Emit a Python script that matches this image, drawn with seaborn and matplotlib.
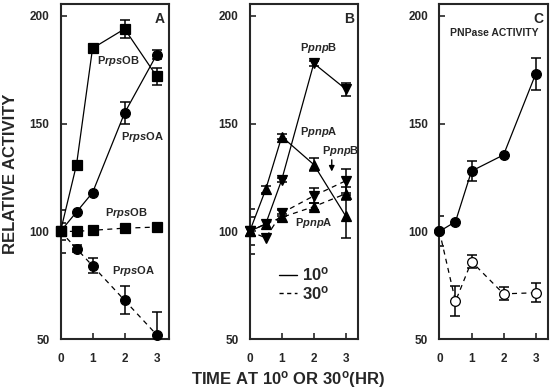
import numpy as np
import matplotlib
matplotlib.use("Agg")
import matplotlib.pyplot as plt
import seaborn as sns
from matplotlib.lines import Line2D

# sampling times (hr)
hours = [0, 0.5, 1, 2, 3]

# panel A: rpsO promoters
rpsOB_10 = [100, 131, 185, 194, 172]
rpsOB_10_err = [10, 0, 0, 4, 4]
rpsOA_10 = [100, 109, 118, 155, 182]
rpsOA_10_err = [4, 0, 0, 5, 2]
rpsOB_30 = [100, 100, 100.5, 101.5, 102]
rpsOB_30_err = [0, 0, 0, 0, 0]
rpsOA_30 = [100, 92, 84, 68, 52]
rpsOA_30_err = [0, 1.5, 3.5, 6.5, 10.5]

# panel B: pnp promoters
pnpA_10 = [100, 119.5, 144, 131, 107]
pnpA_10_err = [6.5, 1.5, 1, 3, 10]
pnpB_10 = [100, 103.5, 124, 178, 166]
pnpB_10_err = [10.5, 0, 1, 1, 3]
pnpA_30 = [100, 103.5, 106.5, 111.5, 117.5]
pnpA_30_err = [0, 0, 1.5, 1.5, 3]
pnpB_30 = [100, 97, 108.5, 116.5, 123.5]
pnpB_30_err = [0, 0, 1.5, 3.5, 5.5]

# panel C: PNPase activity
pnpase_10 = [100, 104.5, 128, 135.5, 173]
pnpase_10_err = [7, 0, 4.5, 0, 7.5]
pnpase_30 = [100, 67.5, 86, 71, 71.5]
pnpase_30_err = [0, 7, 3, 3, 4.5]

panel_letters = ["A", "B", "C"]
y_ticks = [50, 100, 150, 200]
x_ticks = [0, 1, 2, 3]

sns.set_style("ticks")
plt.rcParams["font.family"] = ["Liberation Sans", "DejaVu Sans"]
plt.rcParams["font.weight"] = "bold"
plt.rcParams["mathtext.fontset"] = "custom"
plt.rcParams["mathtext.rm"] = "Liberation Sans:bold"
plt.rcParams["mathtext.it"] = "Liberation Sans:italic:bold"
plt.rcParams["mathtext.bf"] = "Liberation Sans:bold"

SOLID = "-"
DASH = (0, (4, 3.5))


def draw(ax, y, err, marker, ls, ms=7, mfc="black", z=3):
    sns.lineplot(x=hours, y=y, ax=ax, color="black", linestyle=ls, lw=0.9,
                 marker=marker, markersize=ms, markerfacecolor=mfc,
                 markeredgecolor="black", markeredgewidth=0.9,
                 clip_on=False, zorder=z)
    xs = [h for h, e in zip(hours, err) if e > 0]
    ys = [v for v, e in zip(y, err) if e > 0]
    es = [e for e in err if e > 0]
    ax.errorbar(xs, ys, yerr=es, fmt="none", ecolor="black", elinewidth=1.1,
                capsize=3.5, capthick=1.1, zorder=2)


fig = plt.figure(figsize=(5.5, 3.92), dpi=100)
lefts = [0.110, 0.454, 0.799]
axes = [fig.add_axes([l, 0.135, 0.197, 0.855]) for l in lefts]

for ax, letter in zip(axes, panel_letters):
    ax.set_xlim(0, 3.38)
    ax.set_ylim(50, 205.6)
    ax.set_xticks(x_ticks)
    ax.set_yticks(y_ticks)
    ax.tick_params(direction="in", length=4, width=1.2, labelsize=8.5)
    ax.tick_params(axis="x", pad=10)
    ax.tick_params(axis="y", pad=8)
    for lab in ax.get_xticklabels() + ax.get_yticklabels():
        lab.set_fontweight("bold")
    for sp in ax.spines.values():
        sp.set_visible(True)
        sp.set_linewidth(1.5)
    ax.set_xlabel("")
    ax.set_ylabel("")
    ax.text(0.96, 0.975, letter, transform=ax.transAxes, ha="right", va="top",
            fontsize=10, fontweight="bold")

# panel A
ax = axes[0]
draw(ax, rpsOB_30, rpsOB_30_err, "s", DASH, ms=7.5)
draw(ax, rpsOA_30, rpsOA_30_err, "o", DASH)
draw(ax, rpsOB_10, rpsOB_10_err, "s", SOLID, ms=7.5, z=4)
draw(ax, rpsOA_10, rpsOA_10_err, "o", SOLID, z=4)
ax.text(1.14, 179, r"P$\mathit{rps}$OB", fontsize=8, va="center")
ax.text(1.9, 144, r"P$\mathit{rps}$OA", fontsize=8, va="center")
ax.text(1.4, 108.5, r"P$\mathit{rps}$OB", fontsize=8, va="center")
ax.text(1.6, 81.5, r"P$\mathit{rps}$OA", fontsize=8, va="center")

# panel B
ax = axes[1]
draw(ax, pnpA_30, pnpA_30_err, "^", DASH, ms=7.5)
draw(ax, pnpB_30, pnpB_30_err, "v", DASH, ms=7.5)
draw(ax, pnpA_10, pnpA_10_err, "^", SOLID, ms=7.5, z=4)
draw(ax, pnpB_10, pnpB_10_err, "v", SOLID, ms=7.5, z=4)
ax.text(1.58, 185, r"P$\mathit{pnp}$B", fontsize=8, va="center")
ax.text(1.56, 146.3, r"P$\mathit{pnp}$A", fontsize=8, va="center")
ax.text(2.25, 137.4, r"P$\mathit{pnp}$B", fontsize=8, va="center")
ax.text(1.4, 104, r"P$\mathit{pnp}$A", fontsize=8, va="center")
ax.annotate("", xy=(2.56, 126.5), xytext=(2.56, 134.5),
            arrowprops=dict(arrowstyle="-|>", color="black", lw=1,
                            mutation_scale=8))
handles = [Line2D([], [], color="black", lw=1, linestyle=SOLID),
           Line2D([], [], color="black", lw=1, linestyle=(0, (3, 2.5)))]
ax.legend(handles, [r"10$^{\mathbf{o}}$", r"30$^{\mathbf{o}}$"],
          loc="upper left", bbox_to_anchor=(0.27, 0.22), frameon=False,
          handlelength=1.1, handletextpad=0.3, labelspacing=0.05,
          borderpad=0, borderaxespad=0, prop={"weight": "bold", "size": 12})

# panel C
ax = axes[2]
draw(ax, pnpase_30, pnpase_30_err, "o", DASH, mfc="white")
draw(ax, pnpase_10, pnpase_10_err, "o", SOLID, z=4)
ax.text(1.7, 192.2, "PNPase ACTIVITY", fontsize=7.5, ha="center", va="center")

fig.text(0.02, 0.556, "RELATIVE ACTIVITY", rotation=90, ha="center",
         va="center", fontsize=12, fontweight="bold")
fig.text(0.524, 0.031, r"TIME AT 10$^{\mathbf{o}}$ OR 30$^{\mathbf{o}}$(HR)",
         ha="center", va="center", fontsize=12, fontweight="bold")

fig.savefig("out.png", dpi=100)
